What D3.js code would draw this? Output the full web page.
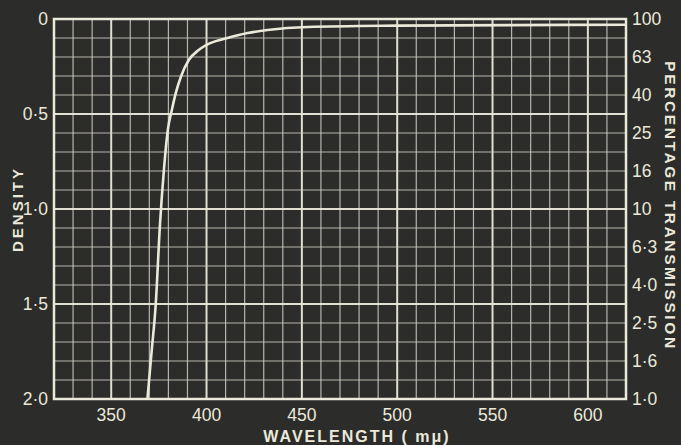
<!DOCTYPE html>
<html><head><meta charset="utf-8">
<script src="https://cdn.jsdelivr.net/npm/d3@7"></script>
<style>html,body{margin:0;padding:0;background:#2c2c2a;}svg{display:block;}</style>
</head><body>
<script>
// Data
const wavelength = [369, 371.2, 373.4, 375.5, 377.6, 379.7, 381.8, 383.9, 386.5, 390.7, 395.9, 402.2, 411, 421.6, 432, 453, 500, 560, 620];
const density    = [2.0, 1.75, 1.495, 1.095, 0.80, 0.584, 0.479, 0.389, 0.305, 0.216, 0.163, 0.126, 0.1, 0.074, 0.058, 0.042, 0.035, 0.032, 0.03];
const xTicks = [350, 400, 450, 500, 550, 600];
const leftTicks = [0, 0.5, 1.0, 1.5, 2.0];
const leftLabels = ["0", "0·5", "1·0", "1·5", "2·0"];
const rightTicks = [0, 0.2, 0.4, 0.6, 0.8, 1.0, 1.2, 1.4, 1.6, 1.8, 2.0];
const rightLabels = ["100", "63", "40", "25", "16", "10", "6·3", "4·0", "2·5", "1·6", "1·0"];

const W = 681, H = 445;
const ink = "#ebe9da";
const minorInk = "#cfcdc2";
const svg = d3.select("body").append("svg").attr("width", W).attr("height", H);
svg.append("rect").attr("width", W).attr("height", H).attr("fill", "#2c2c2a");

const x = d3.scaleLinear().domain([320, 620]).range([54, 626]);
const y = d3.scaleLinear().domain([0, 2]).range([19, 399]);

const g = svg.append("g");
// vertical grid
d3.range(330, 620, 10).forEach(v => {
  const major = v % 50 === 0;
  g.append("line").attr("x1", x(v)).attr("x2", x(v)).attr("y1", y(0)).attr("y2", y(2))
    .attr("stroke", major ? ink : minorInk).attr("stroke-width", major ? 2 : 1.2).attr("opacity", major ? 0.95 : 0.85);
});
// horizontal grid
d3.range(1, 20).forEach(i => {
  const v = i / 10;
  const major = i % 5 === 0;
  g.append("line").attr("x1", x(320)).attr("x2", x(620)).attr("y1", y(v)).attr("y2", y(v))
    .attr("stroke", major ? ink : minorInk).attr("stroke-width", major ? 2 : 1.2).attr("opacity", major ? 0.95 : 0.85);
});
// frame
g.append("rect").attr("x", x(320)).attr("y", y(0)).attr("width", x(620) - x(320)).attr("height", y(2) - y(0))
  .attr("fill", "none").attr("stroke", ink).attr("stroke-width", 2.5);

// curve
svg.append("path").datum(density)
  .attr("d", d3.line().x((d, i) => x(wavelength[i])).y(d => y(d)).curve(d3.curveMonotoneX))
  .attr("fill", "none").attr("stroke", ink).attr("stroke-width", 2.6);

// bottom axis labels
const font = "'Liberation Sans', Arial, sans-serif";
svg.append("g").selectAll("text").data(xTicks).join("text")
  .attr("x", d => x(d)).attr("y", 421).attr("text-anchor", "middle")
  .attr("font-family", font).attr("font-size", 17.5).attr("fill", ink).text(d => d);
// left labels
svg.append("g").selectAll("text").data(leftTicks).join("text")
  .attr("x", 48).attr("y", d => y(d) + 6).attr("text-anchor", "end")
  .attr("font-family", font).attr("font-size", 17.5).attr("fill", ink).text((d, i) => leftLabels[i]);
// right labels
svg.append("g").selectAll("text").data(rightTicks).join("text")
  .attr("x", 632).attr("y", d => y(d) + 6).attr("text-anchor", "start")
  .attr("font-family", font).attr("font-size", 17.5).attr("fill", ink).text((d, i) => rightLabels[i]);

// axis titles
svg.append("text").attr("transform", "translate(23,209) rotate(-90)").attr("text-anchor", "middle")
  .attr("font-family", font).attr("font-weight", "bold").attr("font-size", 15).attr("letter-spacing", 3)
  .attr("fill", ink).text("DENSITY");
svg.append("text").attr("transform", "translate(665,206) rotate(90)").attr("text-anchor", "middle")
  .attr("font-family", font).attr("font-weight", "bold").attr("font-size", 15.5).attr("letter-spacing", 2.6)
  .attr("fill", ink).text("PERCENTAGE TRANSMISSION");
svg.append("text").attr("x", 357).attr("y", 442).attr("text-anchor", "middle")
  .attr("font-family", font).attr("font-weight", "bold").attr("font-size", 16).attr("letter-spacing", 2)
  .attr("fill", ink).text("WAVELENGTH ( mμ)");
</script>
</body></html>
